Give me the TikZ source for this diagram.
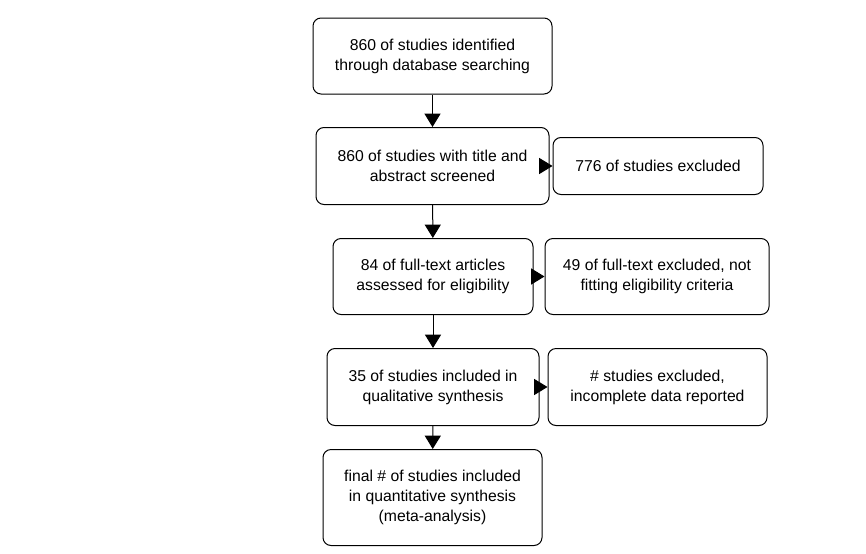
\documentclass[tikz,border=0pt]{standalone}
\usepackage{fontspec}
\setmainfont{Liberation Sans}
\usepackage{tikz}
\usetikzlibrary{arrows.meta, positioning}

\begin{document}
\begin{tikzpicture}[x=0.75pt, y=-0.75pt]
    % Styles
    \tikzstyle{stage} = [draw, rounded corners=6pt, line width=0.75pt, fill=white, align=center, font=\fontsize{11.8}{15}\selectfont, inner sep=2pt]
    \tikzstyle{excluded} = [stage]
    \tikzstyle{arrow} = [draw, line width=0.75pt, -{Triangle[length=10pt, width=12pt]}]

    \useasboundingbox (0,0) rectangle (866,553);

    % Main column
    \node[stage, minimum width=179.25pt, minimum height=57pt] (ident) at (432.5,56) {860 of studies identified\\through database searching};
    \node[stage, minimum width=174.75pt, minimum height=57.75pt] (screen) at (432.5,166) {860 of studies with title and\\abstract screened};
    \node[stage, minimum width=150pt, minimum height=57pt] (fulltext) at (433,276.5) {84 of full-text articles\\assessed for eligibility};
    \node[stage, minimum width=159pt, minimum height=57.75pt] (qual) at (433,387) {35 of studies included in\\qualitative synthesis};
    \node[stage, minimum width=164.25pt, minimum height=72pt] (quant) at (432.5,497.5) {final \# of studies included\\in quantitative synthesis\\(meta-analysis)};

    % Exclusions
    \node[excluded, minimum width=157.5pt, minimum height=42.75pt] (excl1) at (658,166) {776 of studies excluded};
    \node[excluded, minimum width=168pt, minimum height=57pt] (excl2) at (657,276.5) {49 of full-text excluded, not\\fitting eligibility criteria};
    \node[excluded, minimum width=164.25pt, minimum height=57.75pt] (excl3) at (657.5,387) {\# studies excluded,\\incomplete data reported};

    % Arrows
    \draw[arrow] (ident) -- (screen);
    \draw[arrow] (screen) -- (fulltext);
    \draw[arrow] (fulltext) -- (qual);
    \draw[arrow] (qual) -- (quant);
    \draw[arrow] (screen.east) -- (excl1.west);
    \draw[arrow] (fulltext.east) -- (excl2.west);
    \draw[arrow] (qual.east) -- (excl3.west);
\end{tikzpicture}
\end{document}
